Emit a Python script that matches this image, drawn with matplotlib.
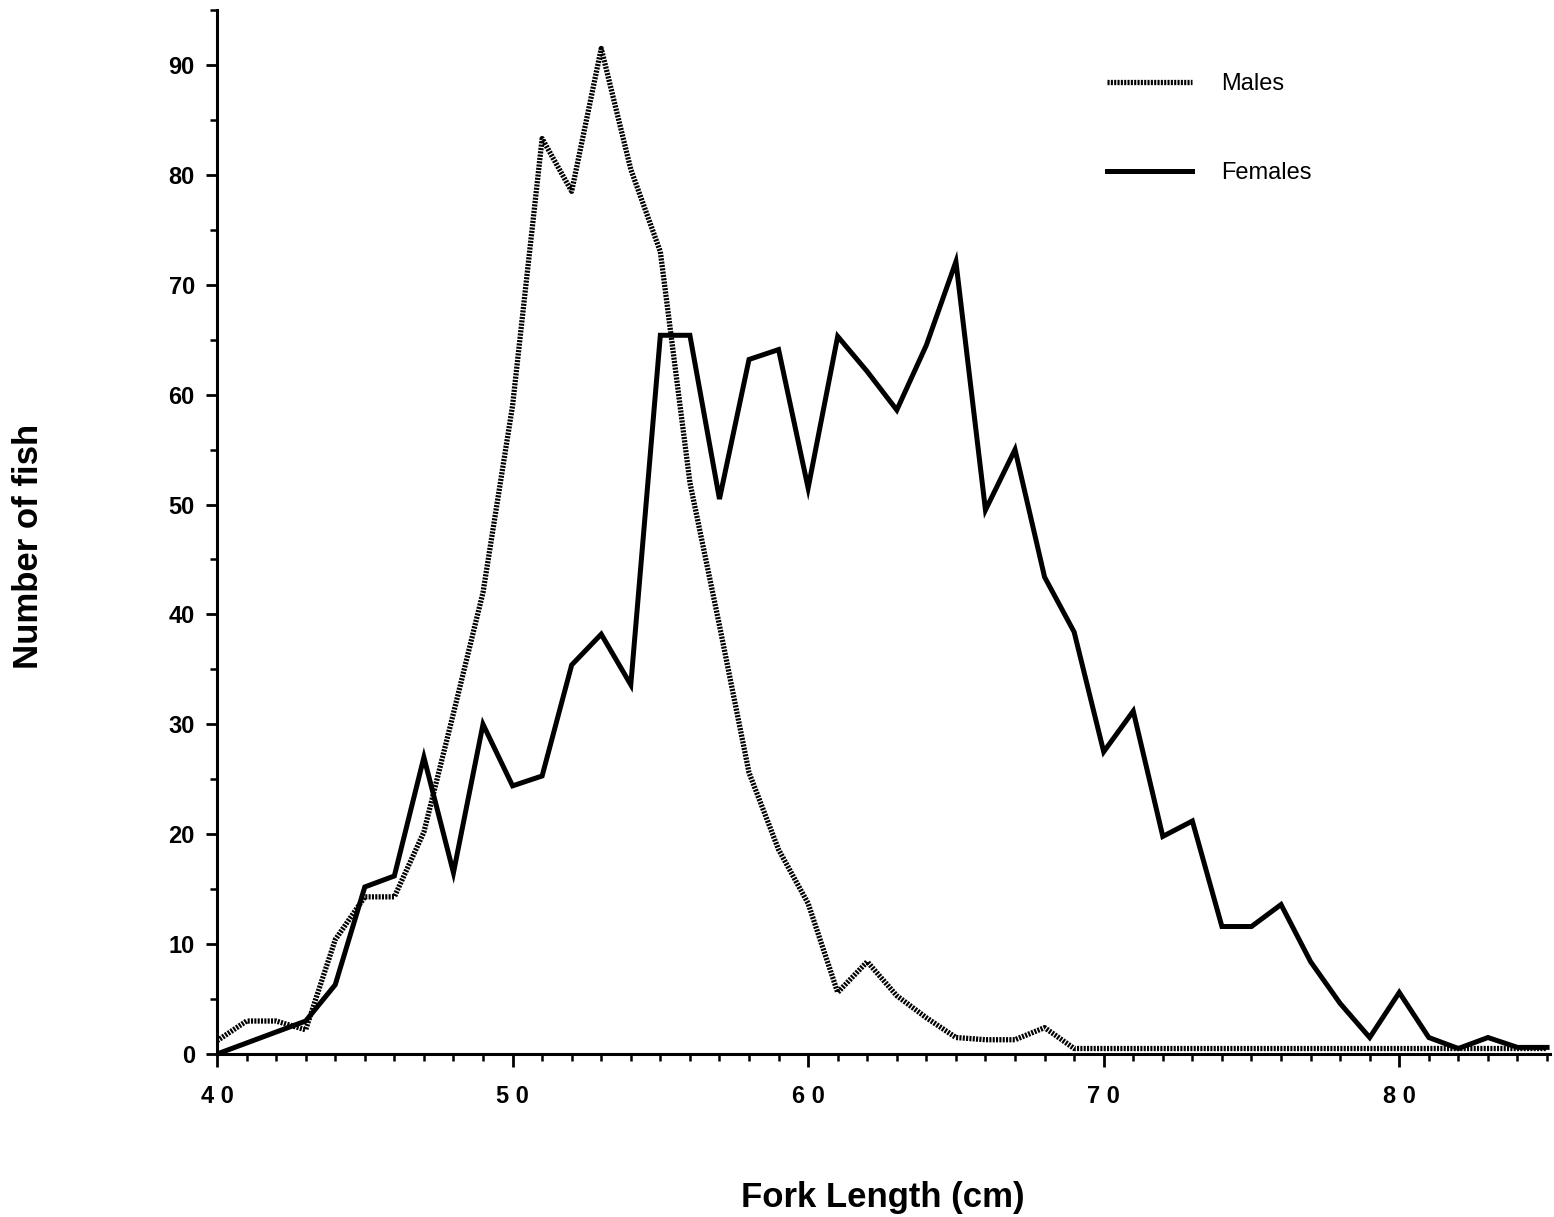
import matplotlib
matplotlib.use("Agg")
import matplotlib.pyplot as plt
from matplotlib.ticker import MultipleLocator, FixedLocator

plt.rcParams['font.family'] = ['Liberation Sans', 'DejaVu Sans']
plt.rcParams['lines.scale_dashes'] = False

lengths = list(range(40, 86))
males = [1.2, 3, 3, 2.2, 10.4, 14.3, 14.3, 20.2, 31, 42, 59, 83.3, 78.5, 91.5, 80.5, 73,
         52, 39, 25.6, 18.6, 13.7, 5.6, 8.4, 5.3, 3.3, 1.5, 1.3, 1.3, 2.4, 0.5,
         0.5, 0.5, 0.5, 0.5, 0.5, 0.5, 0.5, 0.5, 0.5, 0.5, 0.5, 0.5, 0.5, 0.5, 0.5, 0.5]
females = [0, 1, 2, 3, 6.3, 15.2, 16.2, 27, 16.5, 30, 24.4, 25.3, 35.4, 38.2, 33.6, 65.4,
           65.4, 50.5, 63.2, 64.1, 51.5, 65.3, 62.1, 58.6, 64.5, 72.1, 49.5, 55, 43.4, 38.4,
           27.5, 31.2, 19.8, 21.2, 11.6, 11.6, 13.6, 8.4, 4.6, 1.5, 5.6, 1.5, 0.5, 1.5, 0.6, 0.6]
x_ticks = [40, 50, 60, 70, 80]
x_tick_labels = ["4 0", "5 0", "6 0", "7 0", "8 0"]
y_ticks = [0, 10, 20, 30, 40, 50, 60, 70, 80, 90]
y_tick_labels = [str(v) for v in y_ticks]

W, H = 1554, 1217
fig = plt.figure(figsize=(W / 100, H / 100), dpi=100)
ax = fig.add_axes([217 / W, (H - 1054) / H, (1550 - 217) / W, (1054 - 10) / H])

ax.plot(lengths, males, color='black', lw=3.8, linestyle=(0, (1.5, 0.9)),
        dash_capstyle='butt', solid_joinstyle='miter', label='Males')
ax.plot(lengths, females, color='black', lw=3.6, solid_joinstyle='miter', label='Females')

ax.set_xlim(40, 85.1)
ax.set_ylim(0, 95)
ax.spines['top'].set_visible(False)
ax.spines['right'].set_visible(False)
ax.spines['left'].set_linewidth(2.2)
ax.spines['bottom'].set_linewidth(2.2)

ax.xaxis.set_major_locator(FixedLocator(x_ticks))
ax.set_xticklabels(x_tick_labels, fontsize=17, fontweight='bold')
ax.xaxis.set_minor_locator(MultipleLocator(1))
ax.yaxis.set_major_locator(FixedLocator(y_ticks))
ax.set_yticklabels(y_tick_labels, fontsize=17, fontweight='bold')
ax.yaxis.set_minor_locator(MultipleLocator(5))

ax.tick_params(axis='x', which='major', direction='out', length=9, width=2, pad=13)
ax.tick_params(axis='x', which='minor', direction='out', length=5, width=1.8)
ax.tick_params(axis='y', which='major', direction='out', length=8, width=2, pad=8)
ax.tick_params(axis='y', which='minor', direction='out', length=5, width=1.8)

fig.text(883 / W, 1 - 1197 / H, 'Fork Length (cm)', fontsize=25, fontweight='bold',
         ha='center', va='center')
fig.text(29 / W, 1 - 546 / H, 'Number of fish', fontsize=25, fontweight='bold',
         ha='center', va='center', rotation=90)

leg = ax.legend(loc='upper left', bbox_to_anchor=(1107 / W, 1 - 73 / H),
                bbox_transform=fig.transFigure, frameon=False, fontsize=17,
                handlelength=3.6, handletextpad=1.25, labelspacing=2.85,
                borderpad=0, borderaxespad=0)

fig.savefig('out.png', dpi=100, facecolor='white')
